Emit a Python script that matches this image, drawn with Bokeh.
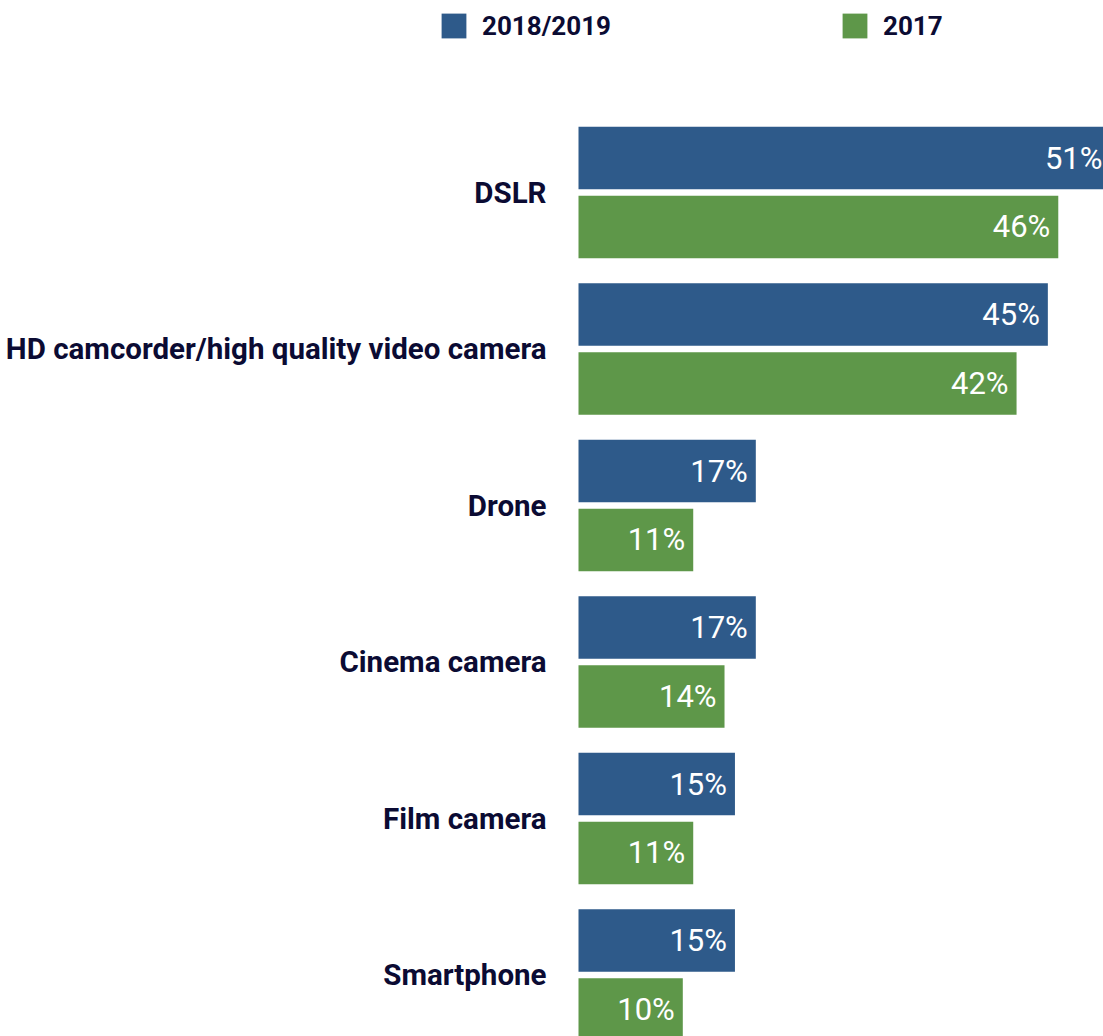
import numpy as np
from bokeh.plotting import figure
from bokeh.models import ColumnDataSource, Range1d, Legend, LegendItem
from bokeh.transform import dodge
from bokeh.core.properties import value
from bokeh.embed import file_html
from bokeh.resources import INLINE

categories = ["DSLR", "HD camcorder/high quality video camera", "Drone",
              "Cinema camera", "Film camera", "Smartphone"]
series_names = ["2018/2019", "2017"]
values_2018_2019 = [51, 45, 17, 17, 15, 15]
values_2017 = [46, 42, 11, 14, 11, 10]

BLUE = "#2E5A8A"
GREEN = "#5E9749"
NAVY = "#0B0B33"
FONT = "Roboto"

W, H_FIG = 1103, 1036
BAR_LEFT_PX = 578        # where the value axis starts (pixels)
PX_PER_PCT = 10.43       # horizontal scale
GROUP_PITCH = 156.5      # pixels per category
FIRST_CENTER = 192       # pixel y of the first category centre

src = ColumnDataSource(dict(
    pos=list(range(len(categories))),
    cat=categories,
    zero=[0] * len(categories),
    a=values_2018_2019,
    b=values_2017,
    a_lbl=[f"{v}%" for v in values_2018_2019],
    b_lbl=[f"{v}%" for v in values_2017],
))

x_start = -BAR_LEFT_PX / PX_PER_PCT
x_end = (W - BAR_LEFT_PX) / PX_PER_PCT
y_top = -FIRST_CENTER / GROUP_PITCH
y_bottom = (H_FIG - FIRST_CENTER) / GROUP_PITCH

p = figure(width=W, height=H_FIG, output_backend="svg", toolbar_location=None,
           x_range=Range1d(x_start, x_end), y_range=Range1d(y_bottom, y_top),
           x_axis_location=None, y_axis_location=None,
           min_border=0)
p.outline_line_color = None
p.grid.visible = False
p.background_fill_color = "white"
p.border_fill_color = "white"

OFF = 0.22
BH = 0.40
r1 = p.hbar(y=dodge("pos", -OFF, range=p.y_range), right="a", left=0, height=BH,
            source=src, fill_color=BLUE, line_color=None)
r2 = p.hbar(y=dodge("pos", OFF, range=p.y_range), right="b", left=0, height=BH,
            source=src, fill_color=GREEN, line_color=None)

for col, off in (("a", -OFF), ("b", OFF)):
    p.text(x=col, y=dodge("pos", off, range=p.y_range), text=col + "_lbl", source=src,
           text_align="right", text_baseline="middle", x_offset=-8,
           text_color="white", text_font=value(FONT), text_font_size="31px")

# category labels
p.text(x="zero", y="pos", text="cat", source=src, x_offset=-32, y_offset=0,
       text_align="right", text_baseline="middle", text_color=NAVY,
       text_font=value(FONT), text_font_style="bold", text_font_size="29.5px")

legend = Legend(items=[LegendItem(label=series_names[0], renderers=[r1]),
                       LegendItem(label=series_names[1], renderers=[r2])],
                orientation="horizontal", location=(438, 995),
                glyph_width=31, glyph_height=31, label_standoff=13, spacing=228,
                padding=0, margin=0, border_line_color=None,
                background_fill_alpha=0,
                label_text_font=FONT, label_text_font_style="bold",
                label_text_font_size="26px", label_text_color=NAVY)
p.add_layout(legend, "center")

open("out.html", "w").write(file_html(p, INLINE))
